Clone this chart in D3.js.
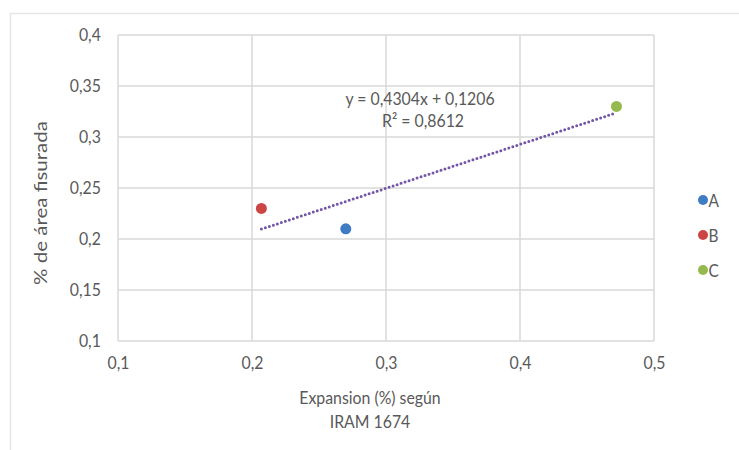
<!DOCTYPE html>
<html><head><meta charset="utf-8">
<script src="https://cdn.jsdelivr.net/npm/d3@7"></script>
<style>body{margin:0;background:#fff;}svg{display:block;}</style>
</head><body>
<svg id="c" width="739" height="450"></svg>
<script>
const series = ["A","B","C"];
const xValues = [0.27, 0.207, 0.472];
const yValues = [0.21, 0.23, 0.33];
const colors = ["#3f7cc4","#cc4545","#94b94f"];
const xTicks = [0.1,0.2,0.3,0.4,0.5];
const yTicks = [0.1,0.15,0.2,0.25,0.3,0.35,0.4];
const slope = 0.4304, intercept = 0.1206, r2 = 0.8612;
const eqLines = ["y = 0,4304x + 0,1206", "R² = 0,8612"];
const xTitle = ["Expansion (%) según","IRAM 1674"];
const yTitle = "% de área fisurada";

const font = "Lato, 'Open Sans', sans-serif";
const txt = "#595959";
const fs = 18, sx = 0.88;
const svg = d3.select("#c");
svg.append("rect").attr("x",10.5).attr("y",13.5).attr("width",740).attr("height",450)
  .attr("fill","#fff").attr("stroke","#e6e6e6").attr("stroke-width",1.5);

const x = d3.scaleLinear().domain([0.1,0.5]).range([118,654]);
const y = d3.scaleLinear().domain([0.1,0.4]).range([341,35]);
const fmt = d => String(+d.toFixed(2)).replace(".",",");
const grid = "#d9d9d9";

function htext(px, py, s, anchor){
  return svg.append("text").attr("transform",`translate(${px},${py}) scale(${sx},1)`)
    .attr("text-anchor",anchor||"middle").attr("font-family",font).attr("font-size",fs)
    .attr("fill",txt).text(s);
}

const g = svg.append("g");
g.selectAll(".gy").data(yTicks).join("line")
  .attr("x1",x(0.1)).attr("x2",x(0.5)).attr("y1",d=>y(d)).attr("y2",d=>y(d))
  .attr("stroke",grid).attr("stroke-width",1.5);
g.selectAll(".gx").data(xTicks).join("line")
  .attr("y1",y(0.1)).attr("y2",y(0.4)).attr("x1",d=>x(d)).attr("x2",d=>x(d))
  .attr("stroke",grid).attr("stroke-width",1.5);

const yAxis = d3.axisLeft(y).tickValues(yTicks).tickFormat(fmt).tickSize(0).tickPadding(19.5);
const ya = svg.append("g").attr("transform",`translate(${x(0.1)},0)`).call(yAxis);
ya.select(".domain").remove();
ya.selectAll("text").attr("font-family",font).attr("font-size",fs).attr("fill",txt)
  .attr("transform",`scale(${sx},1)`);

const xAxis = d3.axisBottom(x).tickValues(xTicks).tickFormat(fmt).tickSize(0).tickPadding(15);
const xa = svg.append("g").attr("transform",`translate(0,${y(0.1)})`).call(xAxis);
xa.select(".domain").remove();
xa.selectAll("text").attr("font-family",font).attr("font-size",fs).attr("fill",txt)
  .attr("transform",`scale(${sx},1)`);

// trendline
const x0 = d3.min(xValues), x1 = d3.max(xValues);
svg.append("line")
  .attr("x1",x(x0)).attr("y1",y(slope*x0+intercept))
  .attr("x2",x(x1)).attr("y2",y(slope*x1+intercept))
  .attr("stroke","#7257a6").attr("stroke-width",3)
  .attr("stroke-dasharray","0 4.2").attr("stroke-linecap","round");

// points
svg.selectAll(".pt").data(series).join("circle")
  .attr("cx",(d,i)=>x(xValues[i])).attr("cy",(d,i)=>y(yValues[i]))
  .attr("r",5.5).attr("fill",(d,i)=>colors[i]);

// equation
htext(420,105,eqLines[0]);
htext(423,127,eqLines[1]);

// axis titles
xTitle.forEach((t,i)=>htext(370,404+i*24,t));
svg.append("text").attr("transform","translate(47,203) rotate(-90) scale(1,0.88)").attr("text-anchor","middle")
  .attr("font-family",font).attr("font-size",20.5).attr("fill",txt).text(yTitle);

// legend
const lg = svg.selectAll(".lg").data(series).join("g")
  .attr("transform",(d,i)=>`translate(703,${200+i*35})`);
lg.append("circle").attr("r",5).attr("fill",(d,i)=>colors[i]);
lg.append("text").attr("transform","translate(5.5,6.5) scale(0.88,1)").attr("font-family",font).attr("font-size",17.5)
  .attr("fill",txt).text(d=>d);
</script>
</body></html>
